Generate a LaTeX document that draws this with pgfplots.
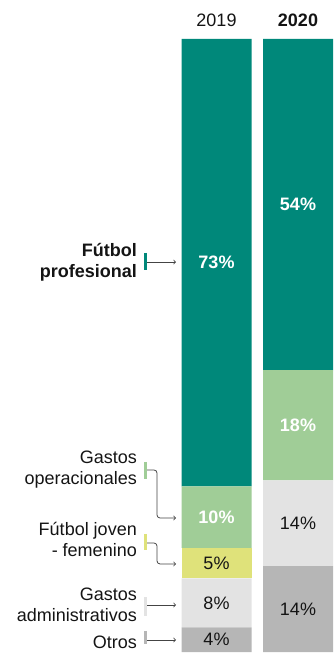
\documentclass[border=0pt]{standalone}
\usepackage{pgfplots}
\pgfplotsset{compat=1.18}
\usepackage{fontspec}
\setmainfont{Liberation Sans}

\definecolor{prof}{HTML}{00887A}
\definecolor{oper}{HTML}{A0CD97}
\definecolor{joven}{HTML}{DFE27A}
\definecolor{admin}{HTML}{E3E3E3}
\definecolor{otros}{HTML}{B6B6B6}
\definecolor{txt}{HTML}{141414}
\definecolor{arr}{HTML}{444444}

\tikzset{
  lab/.style={font=\fontsize{18}{21}\selectfont, text=txt},
  labb/.style={font=\fontsize{18}{21}\selectfont\bfseries, text=txt},
  wlab/.style={font=\fontsize{18}{21}\selectfont\bfseries, text=white},
  cat/.style={lab, anchor=east, align=right, inner sep=0pt},
  conn/.style={->, arr, line width=0.8pt, rounded corners=3pt},
  tick/.style={line width=3pt},
}

\begin{document}
\begin{tikzpicture}
\begin{axis}[
  scale only axis,
  width=333pt, height=654pt,
  xmin=0, xmax=333,
  ymin=-0.326, ymax=106.36,
  hide axis, clip=false,
  ybar stacked, bar width=70,
]
% stack from bottom: otros, administrativos, joven, operacionales, profesional
\addplot[fill=otros, draw=none] coordinates {(216.5,4) (298,14)};
\addplot[fill=admin, draw=none] coordinates {(216.5,8) (298,14)};
\addplot[fill=joven, draw=none] coordinates {(216.5,5) (298,0)};
\addplot[fill=oper,  draw=none] coordinates {(216.5,10) (298,18)};
\addplot[fill=prof,  draw=none] coordinates {(216.5,73) (298,54)};

% keep the whole plot area as bounding box
\path (rel axis cs:0,0) rectangle (rel axis cs:1,1);

% anchor points for the value labels
\coordinate (a1) at (axis cs:216.5,63.5);
\coordinate (a2) at (axis cs:216.5,22);
\coordinate (a3) at (axis cs:216.5,14.5);
\coordinate (a4) at (axis cs:216.5,8);
\coordinate (a5) at (axis cs:216.5,2);
\coordinate (b1) at (axis cs:298,73);
\coordinate (b2) at (axis cs:298,37);
\coordinate (b3) at (axis cs:298,21);
\coordinate (b4) at (axis cs:298,7);

% column headers
\node[lab]  at (axis cs:216.5,103.1) {2019};
\node[labb] at (axis cs:298,103.1) {2020};

% category labels
\node[cat, font=\fontsize{18}{21}\selectfont\bfseries] at (axis cs:137,63.6) {Fútbol\\profesional};
\node[cat] at (axis cs:137,29.7) {Gastos\\operacionales};
\node[cat] at (axis cs:137,18.3) {Fútbol joven\\- femenino};
\node[cat] at (axis cs:137,7.67) {Gastos\\administrativos};
\node[cat] at (axis cs:137,1.6) {Otros};

% colour ticks
\draw[prof,  tick] (axis cs:145,65.09) -- (axis cs:145,62.32);
\draw[oper,  tick] (axis cs:145,31.0)  -- (axis cs:145,28.22);
\draw[joven, tick] (axis cs:145,19.25) -- (axis cs:145,16.64);
\draw[admin, tick] (axis cs:145,8.97)  -- (axis cs:145,5.87);
\draw[otros, tick] (axis cs:145,3.43)  -- (axis cs:145,1.31);

% connectors
\draw[conn] (axis cs:147,63.61) -- (axis cs:176,63.61);
\draw[conn] (axis cs:146.5,29.69) -- (axis cs:157,29.69) -- (axis cs:157,21.86) -- (axis cs:176,21.86);
\draw[conn] (axis cs:146.5,17.78) -- (axis cs:157,17.78) -- (axis cs:157,14.36) -- (axis cs:176,14.36);
\draw[conn] (axis cs:147,7.67) -- (axis cs:176,7.67);
\draw[conn] (axis cs:147,1.96) -- (axis cs:176,1.96);
\end{axis}

% value labels on top of the bars
\node[wlab] at (a1) {73\%};
\node[wlab] at (a2) {10\%};
\node[lab]  at (a3) {5\%};
\node[lab]  at (a4) {8\%};
\node[lab]  at (a5) {4\%};
\node[wlab] at (b1) {54\%};
\node[wlab] at (b2) {18\%};
\node[lab]  at (b3) {14\%};
\node[lab]  at (b4) {14\%};
\end{tikzpicture}
\end{document}
